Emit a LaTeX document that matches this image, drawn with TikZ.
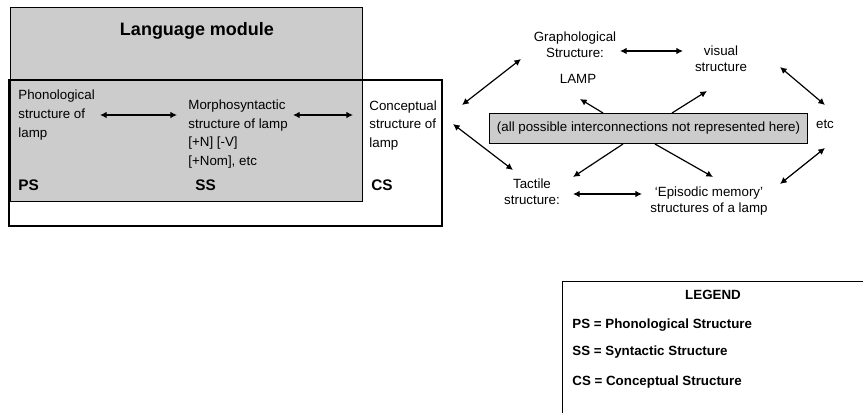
\documentclass[tikz,border=0pt]{standalone}
\usepackage{fontspec}
\setmainfont{Liberation Sans}
\usetikzlibrary{arrows.meta}

\begin{document}
\begin{tikzpicture}[x=0.75pt,y=-0.75pt,>={Latex[length=5pt,width=5pt]},line width=0.6pt,
  conn/.style={line width=0.9pt},
  ltxt/.style={inner sep=0pt,anchor=west,align=left,font=\fontsize{10}{14}\selectfont},
  rtxt/.style={inner sep=0pt,align=center,font=\fontsize{10}{12}\selectfont},
  tag/.style={inner sep=0pt,anchor=west,font=\fontsize{11.5}{14}\selectfont\bfseries},
  legline/.style={inner sep=0pt,anchor=west,font=\fontsize{10}{12}\selectfont\bfseries}]

  \useasboundingbox (0,0) rectangle (863,413);

  % language module and the thick frame
  \draw[fill=black!20] (10,7) rectangle (362,201);
  \draw[line width=2pt] (9,80) rectangle (442,226);
  \node[font=\fontsize{13.5}{16}\selectfont\bfseries] (lang) at (197,31) {Language module};

  \node[ltxt] (phon) at (18,115) {Phonological\\structure of\\lamp};
  \node[ltxt] (morph) at (188,134) {Morphosyntactic\\structure of lamp\\{[}+N{]} {[}-V{]}\\{[}+Nom{]}, etc};
  \node[ltxt] (concept) at (369,125.5) {Conceptual\\structure of\\lamp};

  \node[tag] (ps) at (18,185) {PS};
  \node[tag] (ss) at (195,185) {SS};
  \node[tag] (cs) at (371,185) {CS};

  % other structures
  \node[rtxt] (graph) at (575,45) {Graphological\\Structure:};
  \node[rtxt] (lamp) at (578,79) {LAMP};
  \node[rtxt] (visual) at (721,59) {visual\\structure};
  \node[rtxt] (tact) at (532,191.5) {Tactile\\structure:};
  \node[rtxt] (epis) at (709,201) {`Episodic memory'\\structures of a lamp};
  \node[rtxt] (etc) at (825,124) {etc};
  \node[draw,line width=0.9pt,fill=black!20,minimum width=239pt,minimum height=23pt,
    font=\fontsize{10}{12}\selectfont] (note) at (648.5,128.5)
    {(all possible interconnections not represented here)};

  \draw[conn,<->] ([shift={(82,0)}]phon.west) -- ([shift={(-11,-19)}]morph.west);
  \draw[conn,<->] ([shift={(105,-19)}]morph.west) -- ([shift={(-16,-10.5)}]concept.west);
  \draw[conn,<->] ([shift={(93,-20.5)}]concept.west) -- ([shift={(-54,14)}]graph.center);
  \draw[conn,<->] ([shift={(84,-1.5)}]concept.west) -- ([shift={(-19,-21.5)}]tact.center);
  \draw[conn,<->] ([shift={(45,6)}]graph.center) -- ([shift={(-38,-8)}]visual.center);
  \draw[conn,->] ([shift={(-45.5,-15.5)}]note.center) -- ([shift={(2,20)}]lamp.center);
  \draw[conn,->] ([shift={(23.5,-15.5)}]note.center) -- ([shift={(-14,32)}]visual.center);
  \draw[conn,->] ([shift={(-25.5,15.5)}]note.center) -- ([shift={(41,-14.5)}]tact.center);
  \draw[conn,->] ([shift={(6.5,15.5)}]note.center) -- ([shift={(4,-24)}]epis.center);
  \draw[conn,<->] ([shift={(41,2.5)}]tact.center) -- ([shift={(-67,-7)}]epis.center);
  \draw[conn,<->] ([shift={(59,8)}]visual.center) -- ([shift={(0,-19)}]etc.center);
  \draw[conn,<->] ([shift={(71,-17)}]epis.center) -- ([shift={(0,24)}]etc.center);

  % legend
  \draw (863,281) -| (562,413);
  \node[legline,anchor=center] (legend) at (713,295) {LEGEND};
  \node[legline] (legps) at (572,325) {PS = Phonological Structure};
  \node[legline] (legss) at (572,352) {SS = Syntactic Structure};
  \node[legline] (legcs) at (572,382) {CS = Conceptual Structure};
\end{tikzpicture}
\end{document}
